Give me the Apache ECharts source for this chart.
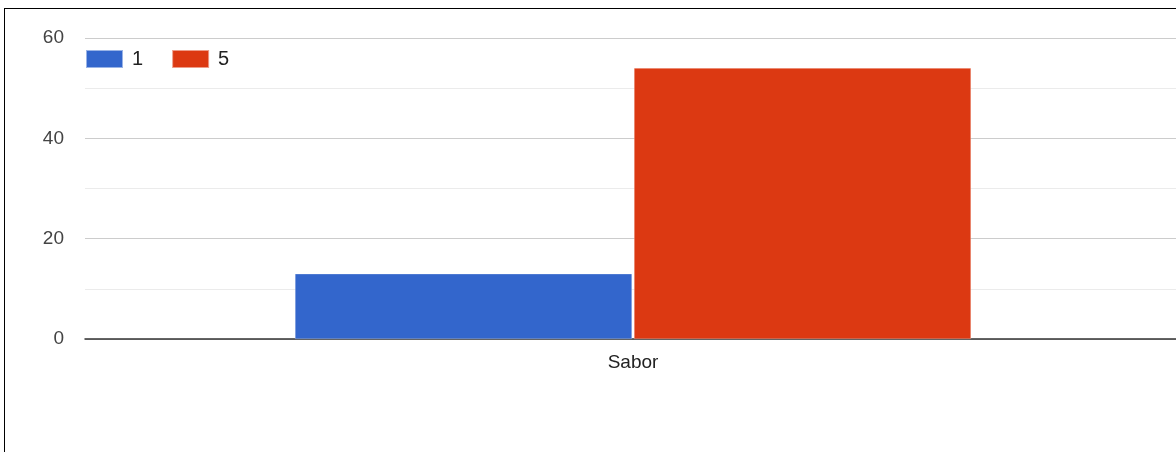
<!DOCTYPE html>
<html>
<head>
<meta charset="utf-8">
<script src="https://cdn.jsdelivr.net/npm/echarts@6/dist/echarts.min.js"></script>
<style>
html,body{margin:0;padding:0;background:#fff;overflow:hidden;width:1176px;height:452px;}
#frame{position:absolute;left:4px;top:8px;width:1300px;height:600px;border-left:1px solid #000;border-top:1px solid #000;}
#chart{position:absolute;left:0;top:0;width:1200px;height:452px;}
</style>
</head>
<body>
<div id="frame"></div>
<div id="chart"></div>
<script>
const categories = ["Sabor"];
const seriesNames = ["1", "5"];
const values1 = [13];
const values5 = [54];
const yTicks = [0, 20, 40, 60];
const colors = ["#3366cc", "#dc3912"];

const chart = echarts.init(document.getElementById('chart'), null, {renderer: 'canvas'});
chart.setOption({
  animation: false,
  color: colors,
  textStyle: {fontFamily: 'Arial, "Liberation Sans", sans-serif'},
  grid: {left: 85, top: 38, width: 1096, height: 301, containLabel: false},
  legend: {
    left: 85, top: 49, padding: 0, itemWidth: 37, itemHeight: 18, itemGap: 28,
    icon: 'rect',
    textStyle: {fontSize: 20, color: '#222', padding: [0, 0, 0, 4]},
    data: seriesNames
  },
  xAxis: {
    type: 'category', data: categories,
    axisLine: {show: true, lineStyle: {color: '#333', width: 1.5}},
    axisTick: {show: false},
    axisLabel: {fontSize: 19, color: '#222', margin: 14}
  },
  yAxis: {
    type: 'value', min: yTicks[0], max: yTicks[yTicks.length - 1], interval: 20,
    axisLine: {show: false}, axisTick: {show: false},
    axisLabel: {fontSize: 19, color: '#444', margin: 21},
    splitLine: {lineStyle: {color: '#cccccc', width: 1}},
    minorTick: {show: false, splitNumber: 2},
    minorSplitLine: {show: true, lineStyle: {color: '#ebebeb', width: 1}}
  },
  series: [
    {name: seriesNames[0], type: 'bar', data: values1, barWidth: 337, barGap: '0.6%',
     itemStyle: {borderColor: 'rgba(255,255,255,0.5)', borderWidth: 0.5}},
    {name: seriesNames[1], type: 'bar', data: values5, barWidth: 337, barGap: '0.6%',
     itemStyle: {borderColor: 'rgba(255,255,255,0.5)', borderWidth: 0.5}}
  ]
});
</script>
</body>
</html>
